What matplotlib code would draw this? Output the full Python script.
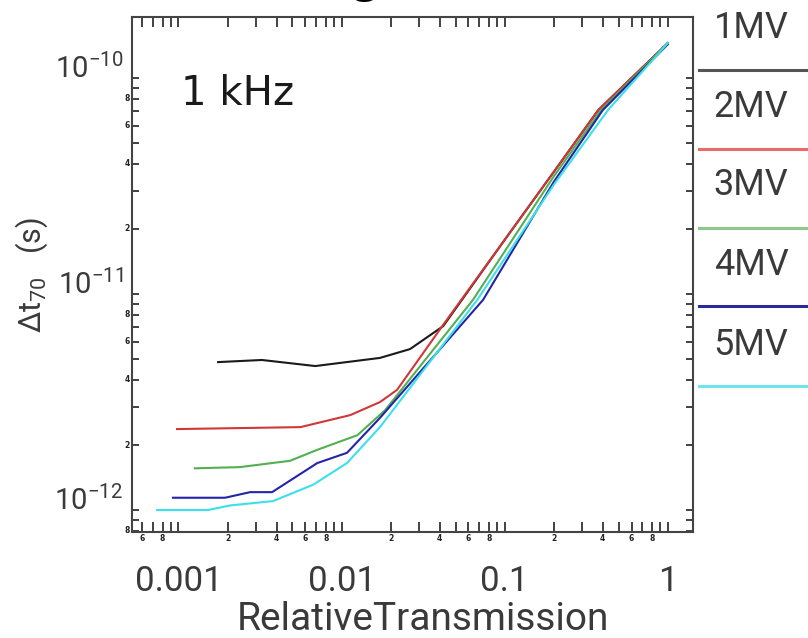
import matplotlib
matplotlib.use("Agg")
import matplotlib.pyplot as plt
from matplotlib.lines import Line2D
from matplotlib import transforms

plt.rcParams["mathtext.fontset"] = "custom"
plt.rcParams["mathtext.rm"] = "Roboto"
plt.rcParams["mathtext.it"] = "Roboto:italic"
plt.rcParams["mathtext.bf"] = "Roboto:bold"

# data
t_1mv = [1.75e-3, 3.25e-3, 6.9e-3, 0.0172, 0.0263, 0.042, 0.1, 0.2, 0.375, 1.0]
dt_1mv = [4.84e-12, 4.95e-12, 4.64e-12, 5.06e-12, 5.56e-12, 7.1e-12, 1.78e-11, 3.67e-11, 7.1e-11, 1.45e-10]

t_2mv = [9.8e-4, 5.6e-3, 0.0113, 0.0172, 0.0219, 0.042, 0.1, 0.2, 0.375, 1.0]
dt_2mv = [2.37e-12, 2.42e-12, 2.75e-12, 3.16e-12, 3.6e-12, 7.2e-12, 1.78e-11, 3.67e-11, 7.1e-11, 1.45e-10]

t_3mv = [1.26e-3, 2.38e-3, 4.83e-3, 7.1e-3, 0.0125, 0.0185, 0.064, 0.2, 0.39, 1.0]
dt_3mv = [1.56e-12, 1.58e-12, 1.69e-12, 1.90e-12, 2.22e-12, 2.9e-12, 9.4e-12, 3.5e-11, 7.1e-11, 1.45e-10]

t_4mv = [9.25e-4, 1.93e-3, 2.75e-3, 3.75e-3, 7.1e-3, 0.0108, 0.0172, 0.0738, 0.2, 0.40, 1.0]
dt_4mv = [1.14e-12, 1.14e-12, 1.21e-12, 1.21e-12, 1.65e-12, 1.84e-12, 2.67e-12, 9.4e-12, 3.3e-11, 7.1e-11, 1.43e-10]

t_5mv = [7.4e-4, 1.52e-3, 2.07e-3, 3.8e-3, 6.7e-3, 0.0108, 0.0172, 0.068, 0.2, 0.43, 1.0]
dt_5mv = [1.0e-12, 1.0e-12, 1.05e-12, 1.10e-12, 1.31e-12, 1.65e-12, 2.42e-12, 9.4e-12, 3.2e-11, 7.1e-11, 1.45e-10]

labels = ["1MV", "2MV", "3MV", "4MV", "5MV"]
colors = ["#1a1a1a", "#d03838", "#52b052", "#2424a8", "#3ce0ea"]
legend_colors = ["#555555", "#e86a6a", "#8cc88c", "#2a2a9a", "#70e4ea"]

x_major = [0.001, 0.01, 0.1, 1]
x_major_labels = ["0.001", "0.01", "0.1", "1"]
x_minor = [6e-4, 7e-4, 8e-4, 9e-4] + [m * 10.0 ** e for e in (-3, -2, -1) for m in range(2, 10)]
x_minor_labeled = [6e-4, 8e-4, 2e-3, 4e-3, 6e-3, 8e-3, 0.02, 0.04, 0.06, 0.08, 0.2, 0.4, 0.6, 0.8]
x_minor_labels = ["6", "8", "2", "4", "6", "8", "2", "4", "6", "8", "2", "4", "6", "8"]

y_major = [1e-12, 1e-11, 1e-10]
y_major_labels = [r"$10^{-12}$", r"$10^{-11}$", r"$10^{-10}$"]
y_minor = [8e-13, 9e-13] + [m * 10.0 ** e for e in (-12, -11) for m in range(2, 10)]
y_minor_labeled = [8e-13, 2e-12, 4e-12, 6e-12, 8e-12, 2e-11, 4e-11, 6e-11, 8e-11]
y_minor_labels = ["8", "2", "4", "6", "8", "2", "4", "6", "8"]

thin = dict(family="Roboto", color="#3a3a3a")

fig = plt.figure(figsize=(8.08, 6.38), dpi=100)
ax = fig.add_axes([0.1634, 0.1661, 0.6943, 0.8072])

series = [(t_1mv, dt_1mv), (t_2mv, dt_2mv), (t_3mv, dt_3mv), (t_4mv, dt_4mv), (t_5mv, dt_5mv)]
for (tx, ty), c in zip(series, colors):
    ax.plot(tx, ty, color=c, lw=1.5)

ax.set_xscale("log")
ax.set_yscale("log")
ax.set_xlim(5.19e-4, 1.43)
ax.set_ylim(7.91e-13, 1.915e-10)

ax.set_xticks(x_major)
ax.set_xticks(x_minor, minor=True)
ax.set_yticks(y_major)
ax.set_yticks(y_minor, minor=True)
ax.tick_params(which="both", direction="in", top=True, right=True,
               labelbottom=False, labelleft=False, color="#333333", width=1.3)
ax.tick_params(axis="x", which="both", length=7)
ax.tick_params(axis="y", which="both", length=5)
for s in ax.spines.values():
    s.set_color("#444444")
    s.set_linewidth(1.5)

# tick labels drawn by hand
bx = transforms.blended_transform_factory(ax.transData, ax.transAxes)
by = transforms.blended_transform_factory(ax.transAxes, ax.transData)
for v, lab in zip(x_major, x_major_labels):
    ax.text(v, -0.064, lab, transform=bx, ha="center", va="top", fontsize=25, **thin)
for v, lab in zip(x_minor_labeled, x_minor_labels):
    ax.text(v, -0.012, lab, transform=bx, ha="center", va="center",
            fontsize=5.5, fontweight="bold", color="#222222")
for v, lab in zip(y_major, y_major_labels):
    ax.text(-0.016, v, lab, transform=by, ha="right", va="baseline", fontsize=21, **thin)
for v, lab in zip(y_minor_labeled, y_minor_labels):
    ax.text(-0.004, v, lab, transform=by, ha="right", va="center",
            fontsize=5.5, fontweight="bold", color="#222222")

ax.text(0.087, 0.829, "1 kHz", transform=ax.transAxes, ha="left", va="baseline",
        fontsize=29, color="#1a1a1a")

fig.text(423 / 808, 1 - 630 / 638, "RelativeTransmission", ha="center", va="baseline",
         fontsize=28, **thin)
fig.text(32 / 808, 1 - 275 / 638, "Δt$_{70}$   (s)", rotation=90, ha="center", va="center",
         fontsize=22, **thin)

# cropped title: only the descender is inside the picture
fig.text(380 / 808, 1 + 7 / 638, "g", ha="right", va="baseline",
         fontsize=29, fontweight="bold", color="black")

# legend on the right
legend_line_y = [70, 149, 228, 306, 386]
legend_text_y = [28, 107, 185, 265, 345]
for lab, c, ly, tyy in zip(labels, legend_colors, legend_line_y, legend_text_y):
    fig.add_artist(Line2D([699 / 808, 1.0], [1 - ly / 638, 1 - ly / 638],
                          transform=fig.transFigure, color=c, lw=2.2))
    fig.text(751 / 808, 1 - tyy / 638, lab, ha="center", va="center", fontsize=26, **thin)

fig.savefig("out.png", dpi=100)
